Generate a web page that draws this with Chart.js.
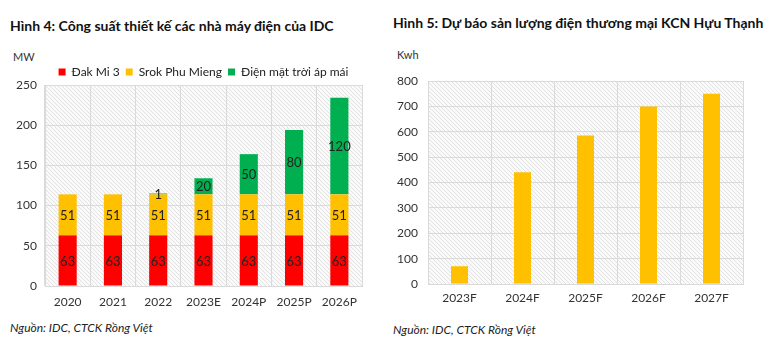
<!DOCTYPE html>
<html>
<head>
<meta charset="utf-8">
<script src="https://cdn.jsdelivr.net/npm/chart.js"></script>
<style>
  body { margin: 0; background: #fff; font-family: Lato, "Open Sans", sans-serif; }
  #wrap { position: relative; width: 765px; height: 352px; overflow: hidden; }
  .title { position: absolute; font-weight: bold; font-size: 14px; color: #111; white-space: nowrap; }
  .unit { position: absolute; font-size: 11px; color: #333; }
  .src { position: absolute; font-size: 12px; font-style: italic; color: #222; white-space: nowrap; }
  canvas { position: absolute; }
</style>
</head>
<body>
<div id="wrap">
  <div class="title" style="left:10px; top:17px;">Hình 4: Công suất thiết kế các nhà máy điện của IDC</div>
  <div class="unit" style="left:13px; top:50px;">MW</div>
  <div class="src" style="left:10px; top:320px;">Nguồn: IDC, CTCK Rồng Việt</div>

  <div class="title" style="left:393px; top:14px;">Hình 5: Dự báo sản lượng điện thương mại KCN Hựu Thạnh</div>
  <div class="unit" style="left:397px; top:48px;">Kwh</div>
  <div class="src" style="left:393px; top:322px;">Nguồn: IDC, CTCK Rồng Việt</div>

  <canvas id="capChart" width="375" height="256" style="left:0; top:60px; width:375px; height:256px;"></canvas>
  <canvas id="kwhChart" width="375" height="256" style="left:390px; top:60px; width:375px; height:256px;"></canvas>
</div>
<script>
// Hình 4 data
const capYears = ['2020', '2021', '2022', '2023E', '2024P', '2025P', '2026P'];
const dakMi3 = [63, 63, 63, 63, 63, 63, 63];
const srokPhuMieng = [51, 51, 51, 51, 51, 51, 51];
const dienMatTroi = [null, null, 1, 20, 50, 80, 120];

// Hình 5 data
const kwhYears = ['2023F', '2024F', '2025F', '2026F', '2027F'];
const kwhValues = [70, 440, 585, 700, 750];

const tickFont = { family: 'Lato, "Open Sans", sans-serif', size: 12 };
const gridColor = '#dadada';

function hatchPattern(ctx) {
    const c = document.createElement('canvas');
    c.width = 4; c.height = 4;
    const p = c.getContext('2d');
    p.fillStyle = '#fafafa';
    p.fillRect(0, 0, 4, 4);
    p.strokeStyle = '#e2e2e2';
    p.lineWidth = 1;
    p.beginPath();
    p.moveTo(0, 0); p.lineTo(4, 4);
    p.moveTo(-1, 3); p.lineTo(1, 5);
    p.moveTo(3, -1); p.lineTo(5, 1);
    p.stroke();
    return ctx.createPattern(c, 'repeat');
}

const hatchBg = {
    id: 'hatchBg',
    beforeDraw(chart) {
        const { ctx, chartArea: a } = chart;
        ctx.save();
        ctx.fillStyle = hatchPattern(ctx);
        ctx.fillRect(a.left, a.top, a.right - a.left, a.bottom - a.top);
        ctx.restore();
    }
};

const barLabels = {
    id: 'barLabels',
    afterDatasetsDraw(chart) {
        const ctx = chart.ctx;
        ctx.save();
        ctx.font = '13px Lato, "Open Sans", sans-serif';
        ctx.fillStyle = '#222';
        ctx.textAlign = 'center';
        ctx.textBaseline = 'middle';
        chart.data.datasets.forEach((ds, i) => {
            chart.getDatasetMeta(i).data.forEach((bar, j) => {
                const v = ds.data[j];
                if (v == null) return;
                const { x, y, base } = bar.getProps(['x', 'y', 'base'], true);
                ctx.fillText(String(v), x, (y + base) / 2 + 1);
            });
        });
        ctx.restore();
    }
};

function legendHeight(h) {
    return {
        id: 'legendHeight',
        beforeInit(chart) {
            const fit = chart.legend.fit;
            chart.legend.fit = function () {
                fit.bind(chart.legend)();
                this.height = h;
            };
        }
    };
}

function axes(maxY, stepY, yWidth, xHeight, yPad, xPad) {
    return {
        x: {
            stacked: true,
            grid: { color: gridColor, drawTicks: false, offset: true },
            border: { color: gridColor },
            ticks: { font: tickFont, color: '#333', padding: xPad, maxRotation: 0 },
            afterFit(s) { s.height = xHeight; }
        },
        y: {
            stacked: true,
            min: 0, max: maxY,
            grid: { color: gridColor, drawTicks: false },
            border: { color: gridColor },
            ticks: { font: tickFont, color: '#333', stepSize: stepY, padding: yPad },
            afterFit(s) { s.width = yWidth; }
        }
    };
}

new Chart(document.getElementById('capChart'), {
    type: 'bar',
    data: {
        labels: capYears,
        datasets: [
            { label: 'Đak Mi 3', data: dakMi3, backgroundColor: '#ff0000' },
            { label: 'Srok Phu Mieng', data: srokPhuMieng, backgroundColor: '#ffc000' },
            { label: 'Điện mặt trời áp mái', data: dienMatTroi, backgroundColor: '#00b050' }
        ]
    },
    options: {
        responsive: false,
        animation: false,
        datasets: { bar: { barPercentage: 0.4, categoryPercentage: 1 } },
        layout: { padding: { left: 0, right: 13, top: 0, bottom: 0 } },
        plugins: {
            legend: {
                position: 'top',
                fullSize: false,
                labels: { boxWidth: 7, boxHeight: 7, padding: 6, font: tickFont, color: '#222' }
            },
            tooltip: { enabled: false }
        },
        scales: axes(250, 50, 45, 30, 8, 9)
    },
    plugins: [hatchBg, barLabels, legendHeight(25)]
});

new Chart(document.getElementById('kwhChart'), {
    type: 'bar',
    data: {
        labels: kwhYears,
        datasets: [{ label: 'Kwh', data: kwhValues, backgroundColor: '#ffc000' }]
    },
    options: {
        responsive: false,
        animation: false,
        datasets: { bar: { barPercentage: 0.27, categoryPercentage: 1 } },
        layout: { padding: { left: 0, right: 22, top: 21, bottom: 0 } },
        plugins: { legend: { display: false }, tooltip: { enabled: false } },
        scales: axes(800, 100, 38, 32, 10, 7)
    },
    plugins: [hatchBg]
});
</script>
</body>
</html>
